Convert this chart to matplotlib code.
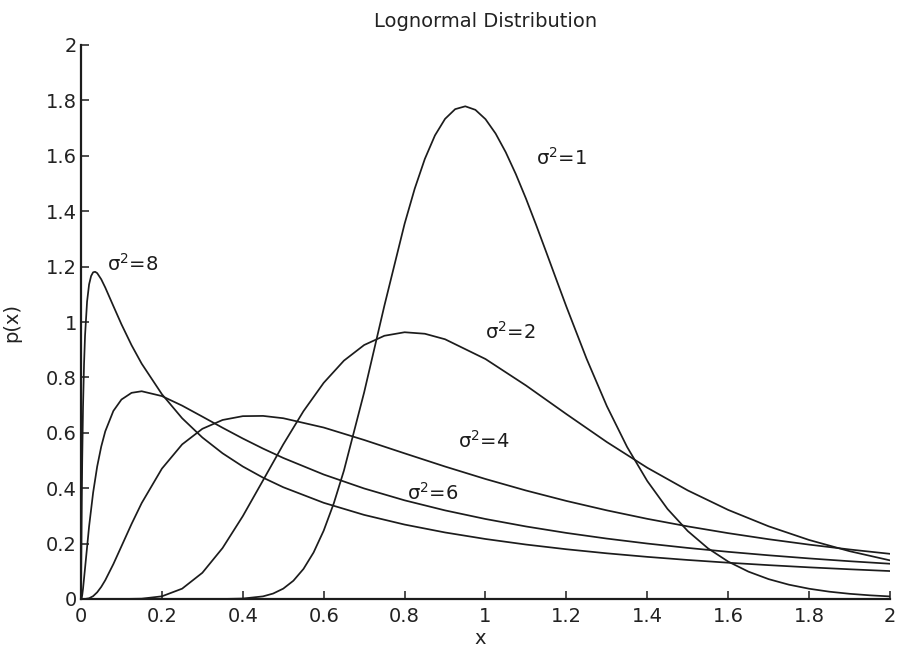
import matplotlib
matplotlib.use("Agg")
import matplotlib.pyplot as plt

plt.rcParams['font.family'] = ['DejaVu Sans']

# ---- data (x, p(x)) ----
x_s1 = [0.30, 0.35, 0.40, 0.45, 0.475, 0.50, 0.525, 0.55, 0.575, 0.60, 0.625, 0.65, 0.70,
        0.75, 0.80, 0.825, 0.85, 0.875, 0.90, 0.925, 0.95, 0.975, 1.00, 1.025, 1.05,
        1.075, 1.10, 1.125, 1.15, 1.175, 1.20, 1.25, 1.30, 1.35, 1.40, 1.45, 1.50, 1.55,
        1.60, 1.65, 1.70, 1.75, 1.80, 1.85, 1.90, 1.95, 2.00]
p_s1 = [0.000, 0.0001, 0.0016, 0.0095, 0.0197, 0.0374, 0.0659, 0.1085, 0.1680, 0.2469,
        0.3456, 0.4636, 0.746, 1.0588, 1.3546, 1.4813, 1.5887, 1.6735, 1.7333, 1.7684,
        1.7787, 1.7659, 1.7322, 1.6803, 1.6130, 1.5338, 1.4457, 1.3510, 1.2529, 1.1537,
        1.0553, 0.8670, 0.6963, 0.5490, 0.4258, 0.3250, 0.2453, 0.1829, 0.1350, 0.0988,
        0.0717, 0.0517, 0.0371, 0.0264, 0.0188, 0.0133, 0.0093]

x_s2 = [0.10, 0.15, 0.20, 0.25, 0.30, 0.35, 0.40, 0.45, 0.50, 0.55, 0.60, 0.65, 0.70,
        0.75, 0.80, 0.85, 0.90, 1.00, 1.10, 1.20, 1.30, 1.40, 1.50, 1.60, 1.70, 1.80,
        1.90, 2.00]
p_s2 = [0.000, 0.0012, 0.0097, 0.0373, 0.0946, 0.1841, 0.2991, 0.4282, 0.5581, 0.6781,
        0.7804, 0.8605, 0.9169, 0.9503, 0.9630, 0.9576, 0.9377, 0.8663, 0.7709, 0.6675,
        0.5666, 0.4738, 0.3920, 0.3216, 0.2624, 0.2131, 0.1726, 0.1395]

x_s4 = [0.0, 0.01, 0.02, 0.03, 0.04, 0.05, 0.06, 0.08, 0.10, 0.125, 0.15, 0.20, 0.25,
        0.30, 0.35, 0.40, 0.45, 0.50, 0.60, 0.70, 0.80, 0.90, 1.00, 1.10, 1.20, 1.30,
        1.40, 1.50, 1.60, 1.70, 1.80, 1.90, 2.00]
p_s4 = [0.000, 0.0002, 0.0026, 0.0103, 0.0242, 0.0437, 0.0679, 0.1260, 0.1903, 0.2709,
        0.3463, 0.4706, 0.5581, 0.6144, 0.6463, 0.6601, 0.6610, 0.6526, 0.6190, 0.5741,
        0.5258, 0.4782, 0.4332, 0.3917, 0.3540, 0.3200, 0.2894, 0.2621, 0.2377, 0.2158,
        0.1963, 0.1788, 0.1631]

x_s6 = [0.0, 0.001, 0.002, 0.003, 0.005, 0.01, 0.02, 0.03, 0.04, 0.05, 0.06, 0.08, 0.10,
        0.125, 0.15, 0.20, 0.25, 0.30, 0.35, 0.40, 0.45, 0.50, 0.60, 0.70, 0.80, 0.90,
        1.00, 1.10, 1.20, 1.30, 1.40, 1.50, 1.60, 1.70, 1.80, 1.90, 2.00]
p_s6 = [0.000, 0.0011, 0.0058, 0.0139, 0.0370, 0.1114, 0.2621, 0.3843, 0.4784, 0.5502,
        0.6054, 0.6789, 0.7201, 0.7443, 0.7500, 0.7326, 0.6981, 0.6584, 0.6182, 0.5794,
        0.5430, 0.5092, 0.4494, 0.3990, 0.3562, 0.3199, 0.2888, 0.2619, 0.2385, 0.2181,
        0.2002, 0.1844, 0.1703, 0.1578, 0.1465, 0.1364, 0.1273]

x_s8 = [0.0, 0.001, 0.002, 0.003, 0.005, 0.0075, 0.01, 0.015, 0.02, 0.025, 0.03, 0.035,
        0.04, 0.05, 0.06, 0.08, 0.10, 0.125, 0.15, 0.20, 0.25, 0.30, 0.35, 0.40, 0.45,
        0.50, 0.60, 0.70, 0.80, 0.90, 1.00, 1.10, 1.20, 1.30, 1.40, 1.50, 1.60, 1.70,
        1.80, 1.90, 2.00]
p_s8 = [0.000, 0.1914, 0.3656, 0.4998, 0.6923, 0.8481, 0.9514, 1.0737, 1.1358, 1.1661,
        1.1795, 1.1812, 1.1765, 1.1543, 1.1244, 1.0577, 0.9917, 0.9162, 0.8496, 0.7394,
        0.6526, 0.5831, 0.5260, 0.4784, 0.4381, 0.4035, 0.3473, 0.3036, 0.2687, 0.2402,
        0.2166, 0.1966, 0.1796, 0.1649, 0.1521, 0.1409, 0.1310, 0.1222, 0.1143, 0.1073,
        0.1009]

curve_labels = ['σ$^2$=1', 'σ$^2$=2', 'σ$^2$=4', 'σ$^2$=6', 'σ$^2$=8']
label_pos_x = [1.124, 1.00, 0.933, 0.807, 0.064]
label_pos_y = [1.567, 0.939, 0.545, 0.357, 1.184]

x_ticks = [0, 0.2, 0.4, 0.6, 0.8, 1, 1.2, 1.4, 1.6, 1.8, 2]
x_ticklabels = ['0', '0.2', '0.4', '0.6', '0.8', '1', '1.2', '1.4', '1.6', '1.8', '2']
y_ticks = [0, 0.2, 0.4, 0.6, 0.8, 1, 1.2, 1.4, 1.6, 1.8, 2]
y_ticklabels = ['0', '0.2', '0.4', '0.6', '0.8', '1', '1.2', '1.4', '1.6', '1.8', '2']

title = 'Lognormal Distribution'
xlabel = 'x'
ylabel = 'p(x)'

# ---- figure ----
W, H = 898, 653
fig = plt.figure(figsize=(W / 100, H / 100), dpi=100)
ax = fig.add_axes([81 / W, 1 - 599 / H, (890 - 81) / W, (599 - 45) / H])

line_kw = dict(color='#1c1c1c', lw=1.25, solid_capstyle='round', solid_joinstyle='round')
for xs, ps in [(x_s1, p_s1), (x_s2, p_s2), (x_s4, p_s4), (x_s6, p_s6), (x_s8, p_s8)]:
    ax.plot(xs, ps, **line_kw)

for lab, lx, ly in zip(curve_labels, label_pos_x, label_pos_y):
    ax.text(lx, ly, lab, fontsize=14, color='#1c1c1c', ha='left', va='baseline')

ax.set_xlim(0, 2)
ax.set_ylim(0, 2)
ax.set_xticks(x_ticks)
ax.set_xticklabels(x_ticklabels)
ax.set_yticks(y_ticks)
ax.set_yticklabels(y_ticklabels)

for side in ['top', 'right']:
    ax.spines[side].set_visible(False)
for side in ['left', 'bottom']:
    ax.spines[side].set_linewidth(1.6)
    ax.spines[side].set_color('#1c1c1c')
ax.tick_params(axis='both', direction='in', length=6, width=1.1, colors='#1c1c1c',
               labelsize=14, labelcolor='#222222')
ax.tick_params(axis='x', pad=6)
ax.tick_params(axis='y', pad=3)
ax.set_title(title, fontsize=14, color='#222222', pad=13)

ax.set_xlabel(xlabel, fontsize=14, color='#222222')
ax.xaxis.set_label_coords((480 - 81) / 809, -(639 - 599) / 554)
ax.set_ylabel(ylabel, fontsize=14, color='#222222')
ax.yaxis.set_label_coords(-(81 - 21) / 809, 0.5)
ax.xaxis.label.set_va('center')

fig.savefig('out.png', dpi=100, facecolor='white')
